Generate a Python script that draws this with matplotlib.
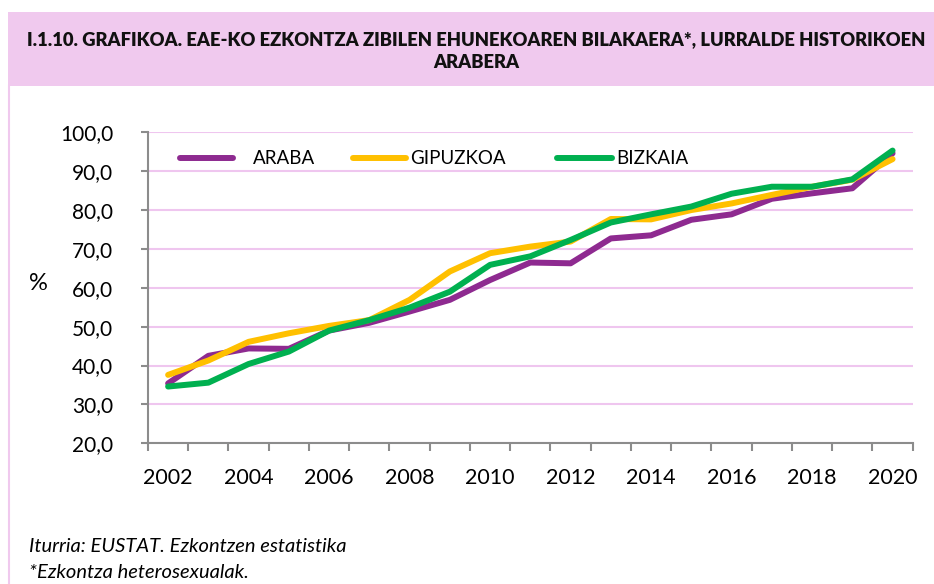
import matplotlib
matplotlib.use("Agg")
import matplotlib.pyplot as plt
from matplotlib.patches import Rectangle
from matplotlib.lines import Line2D

years = list(range(2002, 2021))
araba = [35.4, 42.5, 44.4, 44.3, 49.0, 51.0, 53.9, 56.9, 62.0, 66.5, 66.3, 72.7, 73.5, 77.5, 78.9, 82.9, 84.3, 85.6, 94.6]
gipuzkoa = [37.6, 41.3, 46.1, 48.3, 50.2, 51.7, 56.9, 64.2, 68.9, 70.6, 71.9, 77.7, 77.6, 80.0, 81.7, 83.9, 86.0, 87.8, 93.1]
bizkaia = [34.6, 35.6, 40.4, 43.6, 49.0, 51.7, 54.9, 59.0, 65.9, 68.1, 72.3, 76.8, 78.9, 80.9, 84.2, 86.0, 86.0, 87.9, 95.3]
series_names = ["ARABA", "GIPUZKOA", "BIZKAIA"]
colors = ["#8E2A90", "#FFC000", "#00B050"]
yticks = [20, 30, 40, 50, 60, 70, 80, 90, 100]
xlabels = list(range(2002, 2021, 2))

title1 = "I.1.10. GRAFIKOA. EAE-KO EZKONTZA ZIBILEN EHUNEKOAREN BILAKAERA*, LURRALDE HISTORIKOEN"
title2 = "ARABERA"
foot1 = "Iturria: EUSTAT. Ezkontzen estatistika"
foot2 = "*Ezkontza heterosexualak."

plt.rcParams['font.family'] = ['Lato', 'DejaVu Sans']

W, H = 934, 584
fig = plt.figure(figsize=(W / 100, H / 100), dpi=100)

def fx(px):
    return px / W

def fy(py):
    return 1 - py / H

# title band
fig.patches.append(Rectangle((fx(8), fy(86)), fx(934) - fx(8), fy(12) - fy(86),
                             transform=fig.transFigure, facecolor="#F0C9EE", edgecolor="none", zorder=0))
fig.lines.append(Line2D([fx(9), fx(9)], [fy(86), 0], transform=fig.transFigure, color="#F0C9EE", lw=1.5))
fig.text(fx(476), fy(40), title1, ha="center", va="center", fontsize=13.2, fontweight="heavy", color="#111111")
fig.text(fx(476), fy(63), title2, ha="center", va="center", fontsize=13.2, fontweight="heavy", color="#111111")

ax = fig.add_axes([fx(148), fy(443.3), fx(912.7) - fx(148), fy(132.3) - fy(443.3)])
for vals, c, n in zip([araba, gipuzkoa, bizkaia], colors, series_names):
    ax.plot(years, vals, color=c, lw=4.3, solid_capstyle="round", solid_joinstyle="round", label=n, zorder=3)

ax.set_xlim(2001.5, 2020.5)
ax.set_ylim(20, 100)
ax.set_yticks(yticks)
ax.set_yticklabels([f"{v:.1f}".replace(".", ",") for v in yticks], fontsize=15)
ax.set_xticks(xlabels)
ax.set_xticklabels([str(v) for v in xlabels], fontsize=15.5)
ax.set_xticks([y - 0.5 for y in years] + [2020.5], minor=True)
ax.tick_params(axis="x", which="major", length=0, pad=18)
ax.tick_params(axis="x", which="minor", length=6, width=1.5, color="#8C8C8C")
ax.tick_params(axis="y", length=5, width=1.5, color="#8C8C8C", pad=20)
ax.grid(axis="y", color="#EFC6EF", lw=1.5, zorder=0)
for s in ["top", "right"]:
    ax.spines[s].set_visible(False)
for s in ["left", "bottom"]:
    ax.spines[s].set_color("#8C8C8C")
    ax.spines[s].set_linewidth(1.5)
ax.spines["left"].set_zorder(4)

fig.text(fx(38), fy(284), "%", ha="center", va="center", fontsize=17)

# legend (manual placement)
leg = [(180, 233, 253), (353, 406, 410), (557, 612, 616)]
for (x0, x1, xt), c, n in zip(leg, colors, series_names):
    fig.lines.append(Line2D([fx(x0), fx(x1)], [fy(158), fy(158)], transform=fig.transFigure,
                            color=c, lw=4.3, solid_capstyle="round"))
    fig.text(fx(xt), fy(158), n, ha="left", va="center", fontsize=13.5)

fig.text(fx(29), fy(547), foot1, ha="left", va="center", fontsize=14.5, style="italic")
fig.text(fx(29), fy(572), foot2, ha="left", va="center", fontsize=14.5, style="italic")

fig.savefig("out.png", dpi=100)
